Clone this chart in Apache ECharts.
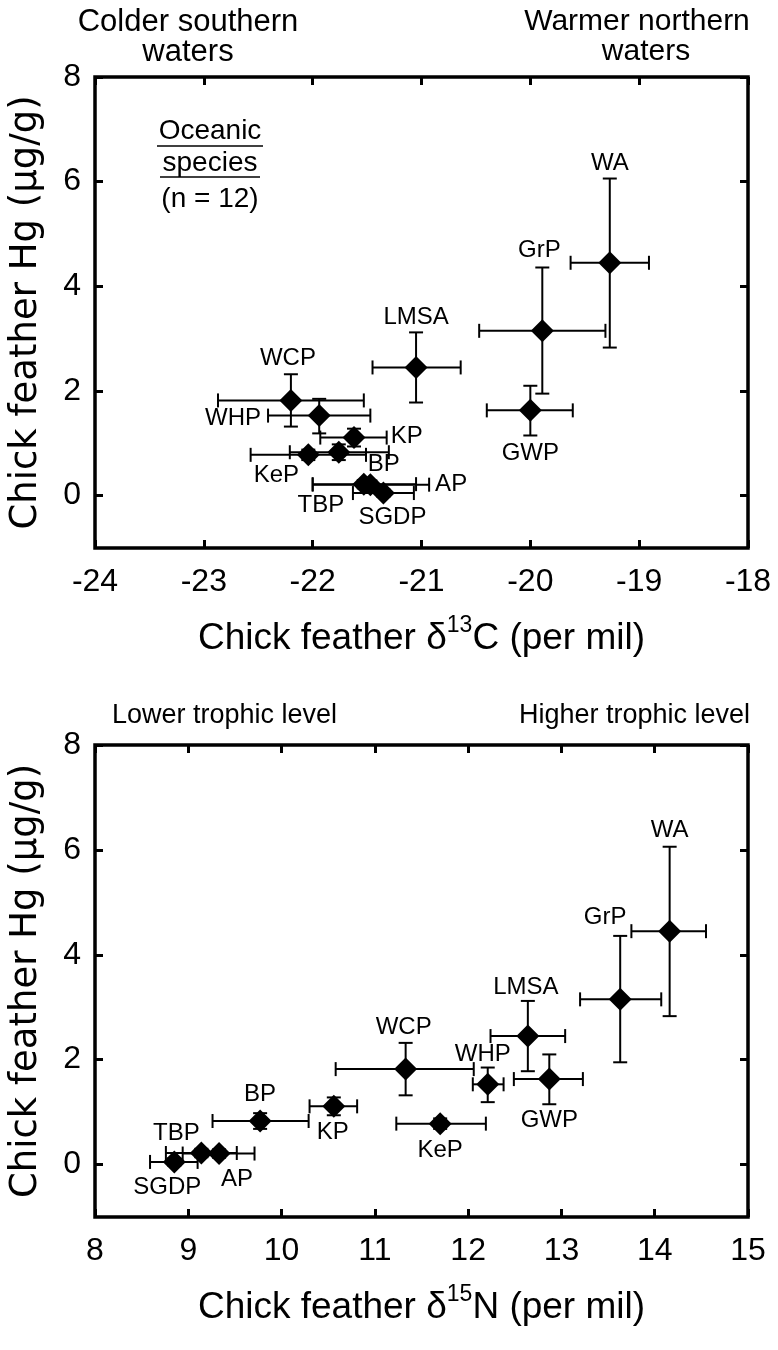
<!DOCTYPE html>
<html><head><meta charset="utf-8">
<style>html,body{margin:0;padding:0;background:#fff}#chart{width:778px;height:1350px}</style>
<script src="https://cdn.jsdelivr.net/npm/echarts@6/dist/echarts.min.js"></script>
</head><body><div id="chart"></div>
<script>
// ---------- data ----------
const species = ['WA','GrP','LMSA','WCP','WHP','KP','BP','KeP','TBP','AP','SGDP','GWP'];
const hg   = [4.45, 3.15, 2.45, 1.82, 1.53, 1.11, 0.83, 0.78, 0.22, 0.21, 0.05, 1.63];
const hgLo = [2.83, 1.95, 1.78, 1.32, 1.19, 0.94, 0.68, 0.68, 0.14, 0.13,-0.02, 1.15];
const hgHi = [6.06, 4.36, 3.12, 2.32, 1.85, 1.28, 0.98, 0.88, 0.30, 0.29, 0.12, 2.10];
const c13   = [-19.27,-19.89,-21.05,-22.20,-21.94,-21.62,-21.76,-22.04,-21.53,-21.47,-21.35,-20.00];
const c13Lo = [-19.63,-20.47,-21.45,-22.87,-22.41,-21.93,-22.21,-22.57,-22.00,-22.00,-21.63,-20.40];
const c13Hi = [-18.91,-19.31,-20.64,-21.53,-21.47,-21.32,-21.30,-21.51,-21.05,-20.93,-21.07,-19.61];
const n15   = [14.16, 13.63, 12.64, 11.33, 12.21, 10.56, 9.77, 11.70, 9.14, 9.33, 8.85, 12.87];
const n15Lo = [13.75, 13.20, 12.24, 10.58, 12.05, 10.30, 9.26, 11.23, 8.76, 8.94, 8.59, 12.49];
const n15Hi = [14.55, 14.07, 13.04, 12.06, 12.38, 10.81, 10.29, 12.19, 9.52, 9.71, 9.10, 13.23];
const yTicks = [0, 2, 4, 6, 8];
const xTicksC = [-24, -23, -22, -21, -20, -19, -18];
const xTicksN = [8, 9, 10, 11, 12, 13, 14, 15];

// ---------- label placement (styles) ----------
const placeC = [['above',0,15],['above',-3,17],['above',0,15],['above',-3,16],['left',7,3],['right',4,-1],
  ['center',45,12],['center',-32,21],['center',-43,21],['right',6,0],['center',9,24],['below',0,18]];
const placeN = [['above',0,16],['above',-15,19],['above',-2,14],['above',-2,16],['above',-5,13],['center',-1,26],
  ['center',0,-27],['center',0,27],['center',-25,-20],['center',18,26],['center',-7,25],['below',0,16]];

const FONT = 'Liberation Sans, Arial, sans-serif';
const BLACK = '#000';

function rows(xs, xl, xh) {
  return species.map((s, i) => [xs[i], hg[i], xl[i], xh[i], hgLo[i], hgHi[i], i]);
}
function errRender(params, api) {
  const x = api.value(0), y = api.value(1);
  const a = api.coord([api.value(2), y]), b = api.coord([api.value(3), y]);
  const lo = api.coord([x, api.value(4)]), hi = api.coord([x, api.value(5)]);
  const cap = 7, st = {stroke: BLACK, lineWidth: 2};
  const L = (x1,y1,x2,y2) => ({type:'line', shape:{x1,y1,x2,y2}, style:st});
  return {type:'group', children:[
    L(a[0],a[1],b[0],b[1]), L(a[0],a[1]-cap,a[0],a[1]+cap), L(b[0],b[1]-cap,b[0],b[1]+cap),
    L(lo[0],lo[1],hi[0],hi[1]), L(lo[0]-cap,lo[1],lo[0]+cap,lo[1]), L(hi[0]-cap,hi[1],hi[0]+cap,hi[1])
  ]};
}
function labelRender(place) {
  return function(params, api) {
    const i = api.value(6);
    const x = api.value(0), y = api.value(1);
    const p = place[i];
    let px, py, align = 'center';
    if (p[0] === 'above') { const c = api.coord([x, api.value(5)]); px = c[0] + p[1]; py = c[1] - p[2]; }
    else if (p[0] === 'below') { const c = api.coord([x, api.value(4)]); px = c[0] + p[1]; py = c[1] + p[2]; }
    else if (p[0] === 'left') { const c = api.coord([api.value(2), y]); px = c[0] - p[1]; py = c[1] + p[2]; align = 'right'; }
    else if (p[0] === 'right') { const c = api.coord([api.value(3), y]); px = c[0] + p[1]; py = c[1] + p[2]; align = 'left'; }
    else { const c = api.coord([x, y]); px = c[0] + p[1]; py = c[1] + p[2]; }
    return {type:'text', x: px, y: py, style:{text: species[i], fill: BLACK, fontSize: 24, fontFamily: FONT, align, verticalAlign:'middle'}};
  };
}

function xAxes(gridIndex, min, max, ticks, title) {
  const common = {type:'value', gridIndex, min, max, interval:1, splitLine:{show:false},
    axisLine:{show:false, onZero:false}, axisTick:{show:true, inside:true, length:8, lineStyle:{color:BLACK, width:3}}};
  return [
    Object.assign({}, common, {position:'bottom',
      axisLabel:{show:true, customValues: ticks, fontSize:32, fontFamily:FONT, color:BLACK, margin:18},
      name: title, nameLocation:'middle', nameGap:66,
      nameTextStyle:{fontSize:37, fontFamily:FONT, color:BLACK, lineHeight:50,
        rich:{sup:{fontSize:23, fontFamily:FONT, color:BLACK, verticalAlign:'top', lineHeight:23}}}}),
    Object.assign({}, common, {position:'top', axisLabel:{show:false}})
  ];
}
function yAxes(gridIndex) {
  const common = {type:'value', gridIndex, min:-1, max:8, interval:1, splitLine:{show:false},
    axisLine:{show:false, onZero:false}, axisTick:{show:true, inside:true, length:8, customValues: yTicks, lineStyle:{color:BLACK, width:3}}};
  return [
    Object.assign({}, common, {position:'left',
      axisLabel:{show:true, customValues: yTicks, fontSize:32, fontFamily:FONT, color:BLACK, margin:14},
      name:'Chick feather Hg (\u00b5g/g)', nameLocation:'middle', nameGap:50,
      nameTextStyle:{fontSize:37, fontFamily:'DejaVu Sans, sans-serif', color:BLACK}}),
    Object.assign({}, common, {position:'right', axisLabel:{show:false}})
  ];
}

const dataC = rows(c13, c13Lo, c13Hi);
const dataN = rows(n15, n15Lo, n15Hi);

function seriesFor(data, xi, yi, place) {
  return [
    {type:'custom', xAxisIndex:xi, yAxisIndex:yi, data, renderItem: errRender, z:2, silent:true, clip:false},
    {type:'scatter', xAxisIndex:xi, yAxisIndex:yi, data: data.map(r => [r[0], r[1]]), symbol:'diamond', symbolSize:[23,23],
      itemStyle:{color:BLACK, opacity:1}, z:3, silent:true},
    {type:'custom', xAxisIndex:xi, yAxisIndex:yi, data, renderItem: labelRender(place), z:4, silent:true, clip:false}
  ];
}

const gridStyle = {show:true, borderColor:BLACK, borderWidth:3.5, backgroundColor:'transparent', containLabel:false};
const ann = (text, x, y, align, size) => ({type:'text', x, y,
  style:{text, fontSize:size, fontFamily:FONT, fill:BLACK, align, verticalAlign:'middle'}});
const option = {
  animation:false,
  backgroundColor:'#fff',
  grid:[
    Object.assign({left:93, right:30, top:77, height:471}, gridStyle),
    Object.assign({left:93, right:30, top:745, height:472}, gridStyle)
  ],
  xAxis:[].concat(
    xAxes(0, -24, -18, xTicksC, 'Chick feather \u03b4{sup|13}C (per mil)'),
    xAxes(1, 8, 15, xTicksN, 'Chick feather \u03b4{sup|15}N (per mil)')),
  yAxis:[].concat(yAxes(0), yAxes(1)),
  series:[].concat(seriesFor(dataC, 0, 0, placeC), seriesFor(dataN, 2, 2, placeN)),
  graphic:[
    ann('Colder southern', 188, 22, 'center', 31),
    ann('waters', 188, 52, 'center', 31),
    ann('Warmer northern', 637, 22, 'center', 30),
    ann('waters', 646, 52, 'center', 30),
    ann('Oceanic', 210, 131, 'center', 28),
    {type:'line', shape:{x1:157, y1:146, x2:263, y2:146}, style:{stroke:BLACK, lineWidth:1.5}},
    ann('species', 210, 163, 'center', 28),
    {type:'line', shape:{x1:160, y1:177, x2:260, y2:177}, style:{stroke:BLACK, lineWidth:1.5}},
    ann('(n = 12)', 210, 199, 'center', 28),
    ann('Lower trophic level', 112, 716, 'left', 27),
    ann('Higher trophic level', 750, 716, 'right', 27)
  ]
};
const chart = echarts.init(document.getElementById('chart'), null, {renderer:'canvas'});
chart.setOption(option);
</script>
</body></html>
